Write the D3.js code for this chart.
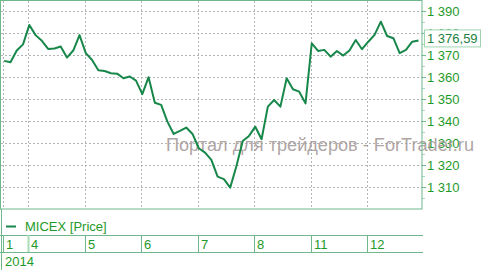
<!DOCTYPE html>
<html>
<head>
<meta charset="utf-8">
<script src="https://cdn.jsdelivr.net/npm/d3@7"></script>
<style>
	body { margin: 0; background: #fff; }
	svg { display: block; font-family: "Liberation Sans", Arial, sans-serif; }
</style>
</head>
<body>
<div id="chart"></div>
<script>
// hourly MICEX closes, 9 bars per day
const prices = [
	1367.3, 1366.7, 1372.0, 1374.8,
	1383.6, 1379.0, 1376.4, 1372.7, 1372.9, 1373.8, 1368.8, 1372.0, 1379.0,
	1370.8, 1367.7, 1363.0, 1362.7, 1361.7, 1361.5, 1359.4, 1360.2, 1358.3,
	1352.2, 1359.9, 1348.3, 1347.3, 1339.7, 1334.1, 1335.5, 1337.0, 1334.1,
	1327.6, 1325.6, 1322.3, 1314.7, 1313.6, 1309.7, 1319.5, 1330.9, 1333.2,
	1337.4, 1331.7, 1346.5, 1349.5, 1346.5, 1359.4, 1354.4, 1353.3, 1348.0,
	1375.3, 1371.8, 1372.3, 1369.2, 1371.8, 1369.7, 1372.0, 1376.8, 1372.6,
	1376.0, 1379.1, 1385.1, 1378.6, 1377.6, 1370.8, 1372.3, 1376.0, 1376.59
];
const dayLabels = ["1", "4", "5", "6", "7", "8", "11", "12"];
const dayStart = [0, 4, 13, 22, 31, 40, 49, 58];
const yearLabel = "2014";
const yTicks = [1310, 1320, 1330, 1340, 1350, 1360, 1370, 1380, 1390];
const seriesName = "MICEX [Price]";
const watermark = "Портал для трейдеров - ForTrader.ru";

const W = 481, H = 270;
const plot = { left: 1, top: 1, right: 422, bottom: 209 };
const lineColor = "#17874a";
const frameColor = "#6fb88c";
const textColor = "#1f9a2a";

const svg = d3.select("#chart").append("svg")
	.attr("width", W)
	.attr("height", H);

const x = d3.scaleLinear()
	.domain([0, prices.length - 1])
	.range([4.2, 418.5]);
const y = d3.scaleLinear()
	.domain([1300, 1394.5])
	.range([plot.bottom, plot.top]);

// grid
svg.append("g")
	.selectAll("line")
	.data(yTicks)
	.join("line")
	.attr("x1", plot.left).attr("x2", plot.right)
	.attr("y1", d => Math.round(y(d)) + 0.5).attr("y2", d => Math.round(y(d)) + 0.5)
	.attr("stroke", "#b4b4b4")
	.attr("stroke-dasharray", "2,2");
svg.append("g")
	.selectAll("line")
	.data(dayStart)
	.join("line")
	.attr("x1", d => Math.round(x(d)) - 0.5).attr("x2", d => Math.round(x(d)) - 0.5)
	.attr("y1", plot.top).attr("y2", plot.bottom)
	.attr("stroke", "#b4b4b4")
	.attr("stroke-dasharray", "2,2");

// right axis
const minor = d3.range(1305, 1395, 10);
const minorAxis = svg.append("g")
	.attr("transform", "translate(" + plot.right + ",0)")
	.call(d3.axisRight(y).tickValues(minor).tickSize(3).tickFormat(""));
minorAxis.select(".domain").remove();
minorAxis.selectAll("line").attr("stroke", "#a8d8b8");

const yAxis = svg.append("g")
	.attr("transform", "translate(" + plot.right + ",0)")
	.call(d3.axisRight(y)
		.tickValues(yTicks)
		.tickSize(4)
		.tickPadding(1)
		.tickFormat(d => d3.format(",")(d).replace(",", " ")));
yAxis.select(".domain").remove();
yAxis.selectAll("line").attr("stroke", frameColor);
yAxis.selectAll("text")
	.attr("fill", textColor)
	.attr("font-size", 13)
	.attr("font-family", "Liberation Sans, Arial, sans-serif");

// watermark, over the axis labels but under the line
svg.append("text")
	.attr("x", 166)
	.attr("y", 151)
	.attr("font-size", 18)
	.attr("textLength", 308)
	.attr("lengthAdjust", "spacingAndGlyphs")
	.attr("fill", "#a59999")
	.attr("fill-opacity", 0.9)
	.text(watermark);

// price line
svg.append("path")
	.datum(prices)
	.attr("d", d3.line()
		.x((d, i) => x(i))
		.y(d => y(d)))
	.attr("fill", "none")
	.attr("stroke", lineColor)
	.attr("stroke-width", 2)
	.attr("stroke-linejoin", "round");

// frame
svg.append("rect")
	.attr("x", plot.left - 0.5).attr("y", plot.top - 0.5)
	.attr("width", plot.right - plot.left + 0.5)
	.attr("height", plot.bottom - plot.top + 0.5)
	.attr("fill", "none")
	.attr("stroke", frameColor);

// last value tag
const last = prices[prices.length - 1];
const tag = svg.append("g")
	.attr("transform", "translate(424," + (y(last) - 2) + ")");
tag.append("rect")
	.attr("x", 0.5).attr("y", -8.5)
	.attr("width", 56).attr("height", 17)
	.attr("fill", "#fff")
	.attr("stroke", "#9fd4b0");
tag.append("text")
	.attr("x", 3).attr("y", 5)
	.attr("font-size", 13)
	.attr("fill", "#1d7f3e")
	.text(d3.format(",.2f")(last).replace(",", " ").replace(".", ","));

// legend
const legend = svg.append("g").attr("transform", "translate(6,226)");
legend.append("line")
	.attr("x1", 0).attr("x2", 10)
	.attr("y1", 0.5).attr("y2", 0.5)
	.attr("stroke", lineColor)
	.attr("stroke-width", 2);
legend.append("text")
	.attr("x", 19).attr("y", 5)
	.attr("font-size", 13)
	.attr("fill", textColor)
	.text(seriesName);

// date rows
const rowTop = 235, rowBottom = 252;
[rowTop, rowBottom].forEach(r => {
	svg.append("line")
		.attr("x1", 0).attr("x2", plot.right + 1)
		.attr("y1", r + 0.5).attr("y2", r + 0.5)
		.attr("stroke", frameColor);
});
svg.append("line")
	.attr("x1", 1.5).attr("x2", 1.5)
	.attr("y1", plot.bottom).attr("y2", H)
	.attr("stroke", frameColor);
svg.append("g")
	.selectAll("line")
	.data(dayStart)
	.join("line")
	.attr("x1", d => Math.round(x(d)) - 0.5).attr("x2", d => Math.round(x(d)) - 0.5)
	.attr("y1", rowTop).attr("y2", rowBottom)
	.attr("stroke", (d, i) => i === 1 ? "#a8dcb8" : frameColor)
	.attr("stroke-width", (d, i) => i === 1 ? 2 : 1);
svg.append("g")
	.selectAll("text")
	.data(dayStart)
	.join("text")
	.attr("x", d => Math.round(x(d)) + 2)
	.attr("y", 249)
	.attr("font-size", 13)
	.attr("fill", textColor)
	.text((d, i) => dayLabels[i]);
svg.append("text")
	.attr("x", 5).attr("y", 266)
	.attr("font-size", 13)
	.attr("fill", textColor)
	.text(yearLabel);
</script>
</body>
</html>
